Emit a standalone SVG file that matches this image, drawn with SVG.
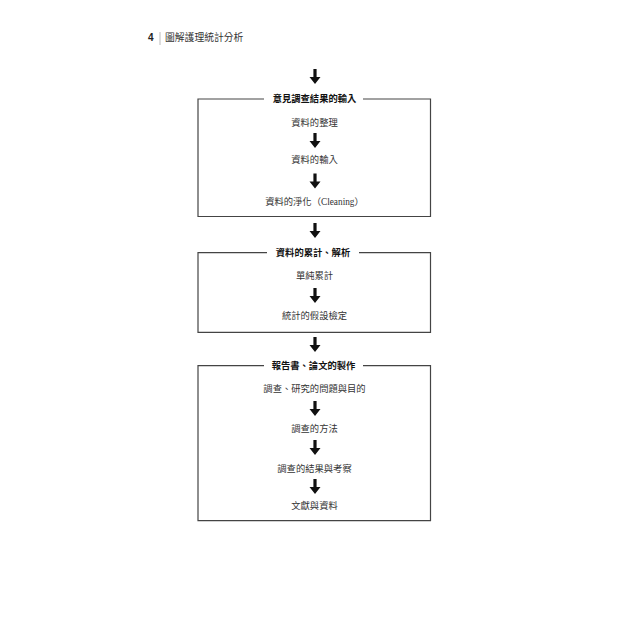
<svg xmlns="http://www.w3.org/2000/svg" width="640" height="640" viewBox="0 0 640 640">
<style>
.t{font-family:"Liberation Sans","Noto Sans CJK TC",sans-serif;font-size:9.3px;fill:#333;text-anchor:middle}
.h{font-family:"Liberation Sans","Noto Sans CJK TC",sans-serif;font-size:9.3px;font-weight:bold;fill:#111;text-anchor:middle}
.box{fill:none;stroke:#444;stroke-width:1.2}
.ar{fill:#111}
</style>
<defs>
<path id="arr" d="M-1.6 0 V8 H-5.5 L0 15 L5.5 8 H1.6 V0 Z"/>
</defs>
<rect width="640" height="640" fill="#fff"/>
<g id="header">
<text x="148" y="41" style="font-family:'Liberation Sans',sans-serif;font-size:10px;font-weight:bold;fill:#222">4</text>
<line x1="160" y1="32" x2="160" y2="45" stroke="#aaa" stroke-width="0.8"/>
<text x="165" y="41" style="font-family:'Liberation Serif','Noto Sans CJK TC',serif;font-size:9.8px;fill:#333">圖解護理統計分析</text>
</g>
<g id="box1">
<path class="box" d="M264 99 H198 V216.5 H430.5 V99 H363"/>
<text class="h" x="314.5" y="102.3">意見調查結果的輸入</text>
<text class="t" x="314.5" y="126">資料的整理</text>
<text class="t" x="314.5" y="163.3">資料的輸入</text>
<text class="t" x="314.5" y="205"><tspan>資料的淨化</tspan><tspan style="font-family:'Liberation Serif','Noto Sans CJK TC',serif">（Cleaning）</tspan></text>
</g>
<g id="box2">
<path class="box" d="M267 252.7 H198 V332.3 H430.5 V252.7 H359"/>
<text class="h" x="313" y="256">資料的累計、解析</text>
<text class="t" x="314.5" y="279">單純累計</text>
<text class="t" x="314.5" y="319">統計的假設檢定</text>
</g>
<g id="box3">
<path class="box" d="M264 365.7 H198 V520.7 H430.5 V365.7 H363"/>
<text class="h" x="313.5" y="369">報告書、論文的製作</text>
<text class="t" x="314.5" y="391.6">調查、研究的問題與目的</text>
<text class="t" x="314.5" y="431.6">調查的方法</text>
<text class="t" x="314.5" y="471.6">調查的結果與考察</text>
<text class="t" x="314.5" y="509.3">文獻與資料</text>
</g>
<g id="connectors" class="ar">
<use href="#arr" x="315" y="69"/>
<use href="#arr" x="315" y="133"/>
<use href="#arr" x="315" y="173.5"/>
<use href="#arr" x="315" y="223"/>
<use href="#arr" x="315" y="288"/>
<use href="#arr" x="315" y="337"/>
<use href="#arr" x="315" y="401"/>
<use href="#arr" x="315" y="440"/>
<use href="#arr" x="315" y="479"/>
</g>
</svg>
